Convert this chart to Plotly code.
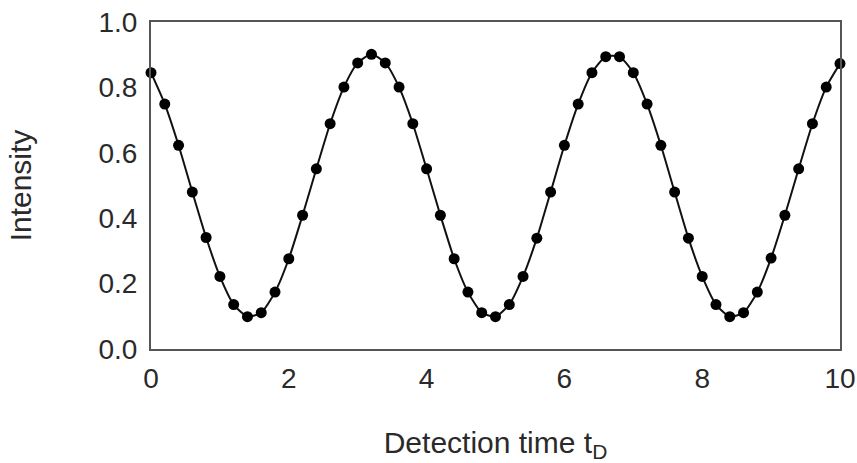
import plotly.graph_objects as go

# Data
detection_time = [round(0.2 * i, 1) for i in range(51)]
intensity = [
    0.845, 0.749, 0.623, 0.480, 0.341, 0.222, 0.136, 0.099, 0.111, 0.174,
    0.276, 0.409, 0.551, 0.689, 0.801, 0.875, 0.901, 0.875, 0.801, 0.689,
    0.551, 0.409, 0.276, 0.174, 0.111, 0.099, 0.136, 0.222, 0.339, 0.480,
    0.623, 0.749, 0.845, 0.894, 0.894, 0.845, 0.749, 0.623, 0.480, 0.339,
    0.222, 0.136, 0.099, 0.111, 0.174, 0.278, 0.409, 0.551, 0.689, 0.801,
    0.873,
]
x_ticks = [0, 2, 4, 6, 8, 10]
y_ticks = [0.0, 0.2, 0.4, 0.6, 0.8, 1.0]
y_tick_labels = ["0.0", "0.2", "0.4", "0.6", "0.8", "1.0"]

font_family = "Liberation Sans, Arial, sans-serif"
text_color = "#2a2a2a"

fig = go.Figure(
    go.Scatter(
        x=detection_time,
        y=intensity,
        mode="lines+markers",
        line=dict(color="#111111", width=2, shape="spline", smoothing=0.6),
        marker=dict(color="#000000", size=11),
        cliponaxis=False,
        showlegend=False,
    )
)

fig.update_layout(
    width=857,
    height=463,
    margin=dict(l=151, r=17, t=22, b=114),
    paper_bgcolor="white",
    plot_bgcolor="white",
    font=dict(family=font_family, color=text_color, size=28),
    xaxis=dict(
        range=[0, 10],
        tickvals=x_ticks,
        ticktext=[str(v) for v in x_ticks],
        showgrid=False,
        zeroline=False,
        showline=True,
        mirror=True,
        linecolor="#555555",
        linewidth=2,
        ticks="",
        ticklabelstandoff=3,
        tickfont=dict(size=28),
        automargin=False,
        title=dict(text="Detection time t<sub>D</sub>", font=dict(size=30), standoff=40),
    ),
    yaxis=dict(
        range=[0, 1],
        tickvals=y_ticks,
        ticktext=y_tick_labels,
        showgrid=False,
        zeroline=False,
        showline=True,
        mirror=True,
        linecolor="#555555",
        linewidth=2,
        ticks="",
        ticklabelstandoff=6,
        tickfont=dict(size=28),
        automargin=False,
        title=dict(text="Intensity", font=dict(size=30), standoff=58),
    ),
)

fig.write_html(
    "out.html",
    config={"displayModeBar": False},
    post_script="document.body.style.margin='0';document.body.style.overflow='hidden';",
)
